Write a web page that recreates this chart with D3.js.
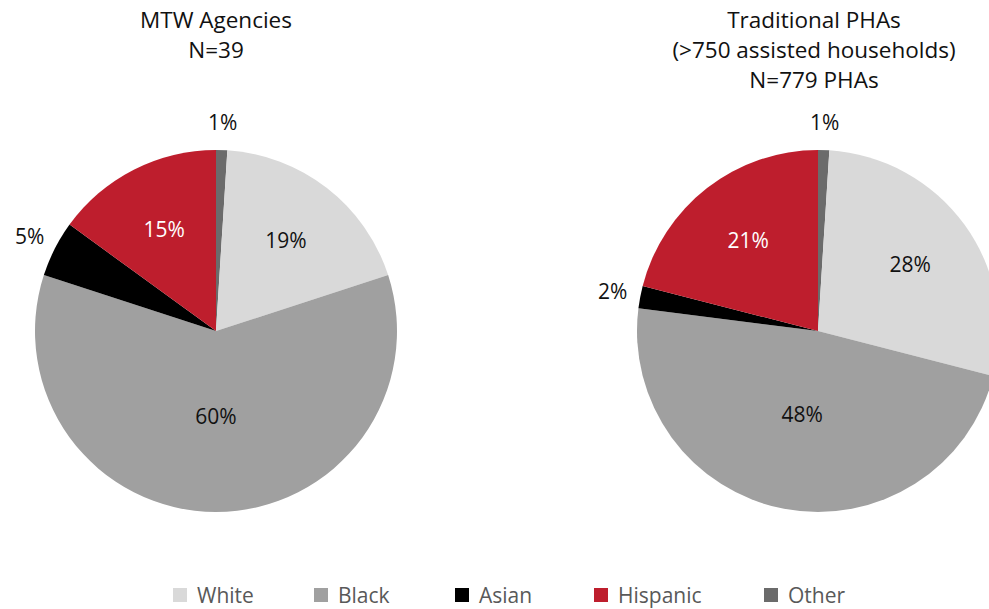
<!DOCTYPE html>
<html>
<head>
<meta charset="utf-8">
<script src="https://cdn.jsdelivr.net/npm/d3@7"></script>
<style>
  body { margin: 0; background: #fff; }
  svg { display: block; font-family: "Open Sans", sans-serif; }
</style>
</head>
<body>
<div id="chart"></div>
<script>
// categories in drawing order (clockwise from 12 o'clock)
const categories = ["Other", "White", "Black", "Asian", "Hispanic"];
const legendOrder = ["White", "Black", "Asian", "Hispanic", "Other"];
const mtwValues = [1, 19, 60, 5, 15];
const phaValues = [1, 28, 48, 2, 21];
const mtwTitle = ["MTW Agencies", "N=39"];
const phaTitle = ["Traditional PHAs", "(>750 assisted households)", "N=779 PHAs"];

const colors = {
    White: "#d9d9d9",
    Black: "#a0a0a0",
    Asian: "#000000",
    Hispanic: "#be1e2d",
    Other: "#6b6b6b"
};

const width = 989, height = 609;
const radius = 181;

const svg = d3.select("#chart")
    .append("svg")
    .attr("width", width)
    .attr("height", height);

const pie = d3.pie().sort(null).value(d => d.value);
const arc = d3.arc().innerRadius(0).outerRadius(radius);

function drawPie(values, title, cx, cy, tx) {
    const data = categories.map((c, i) => ({ name: c, value: values[i] }));
    const g = svg.append("g").attr("transform", `translate(${cx},${cy})`);

    const slices = pie(data);
    g.selectAll("path")
        .data(slices)
        .enter().append("path")
        .attr("d", arc)
        .attr("fill", d => colors[d.data.name]);

    // labels: small slices outside, big slices nearer the middle
    g.selectAll("text.pct")
        .data(slices)
        .enter().append("text")
        .attr("class", "pct")
        .attr("transform", d => {
            let r;
            if (d.data.value <= 5) r = radius + 28;
            else if (d.data.value > 40) r = 85;
            else r = 114;
            const a = (d.startAngle + d.endAngle) / 2;
            return `translate(${Math.sin(a) * r},${-Math.cos(a) * r})`;
        })
        .attr("text-anchor", "middle")
        .attr("dy", "0.36em")
        .style("font-size", "21px")
        .style("fill", d => d.data.name === "Hispanic" ? "#fff" : "#111")
        .text(d => d.data.value + "%");

    svg.append("text")
        .attr("x", tx)
        .attr("y", 28)
        .attr("text-anchor", "middle")
        .style("font-size", "22.5px")
        .style("fill", "#111")
        .selectAll("tspan")
        .data(title)
        .enter().append("tspan")
        .attr("x", tx)
        .attr("dy", (d, i) => i === 0 ? 0 : 30)
        .text(d => d);
}

drawPie(mtwValues, mtwTitle, 216, 331, 216);
drawPie(phaValues, phaTitle, 818, 331, 814);

// Legend
const legendX = [173, 314, 455, 594, 764];
const legend = svg.selectAll(".legend")
    .data(legendOrder)
    .enter().append("g")
    .attr("class", "legend")
    .attr("transform", (d, i) => `translate(${legendX[i]},588)`);

legend.append("rect")
    .attr("width", 14)
    .attr("height", 14)
    .style("fill", d => colors[d]);

legend.append("text")
    .attr("x", 24)
    .attr("y", 15)
    .style("font-size", "21px")
    .style("fill", "#595959")
    .text(d => d);
</script>
</body>
</html>
